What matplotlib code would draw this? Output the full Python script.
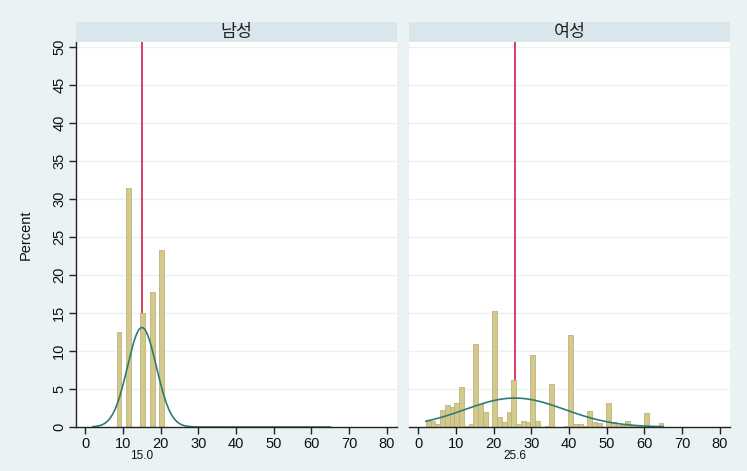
import numpy as np
import matplotlib.pyplot as plt

plt.rcParams['font.family'] = ['Liberation Sans', 'Noto Sans CJK KR', 'DejaVu Sans']

# histogram bins shared by both panels (Stata style, start 2, width 1.26)
bin_start = 2.0
bin_width = 1.26
n_bins = 50

panel_titles = ['남성', '여성']
means = [15.0, 25.6]
sds = [3.84, 13.2]
data_min, data_max = 2.0, 65.0

# percent per bin (index -> percent)
male_pct = {5: 12.5, 7: 31.5, 10: 15.0, 12: 17.8, 14: 23.3}
female_pct = [0.8, 0.8, 0.4, 2.3, 2.9, 2.6, 3.1, 5.3, 0.15, 0.35,
              10.9, 3.0, 2.0, 0.0, 15.2, 1.3, 0.7, 2.0, 6.2, 0.35,
              0.8, 0.7, 9.5, 0.8, 0.0, 0.15, 5.6, 0.0, 0.0, 0.15,
              12.1, 0.4, 0.4, 0.15, 2.15, 0.6, 0.5, 0.0, 3.1, 0.6,
              0.3, 0.3, 0.8, 0.3, 0.2, 0.0, 1.8, 0.0, 0.0, 0.5]

xticks = list(range(0, 81, 10))
yticks = list(range(0, 51, 5))

bg = '#EAF2F3'
strip_c = '#D9E6EB'
bar_c = '#D3C98E'
bar_edge = '#BFB275'
curve_c = '#2F7C74'
mean_c = '#D6315A'

male = np.zeros(n_bins)
for k, v in male_pct.items():
    male[k] = v
female = np.array(female_pct)
edges = bin_start + bin_width * np.arange(n_bins)

fig = plt.figure(figsize=(7.47, 4.71), dpi=100, facecolor=bg)
W, H = 747, 471
lefts = [76, 409]
pw = 321

for i, pct in enumerate([male, female]):
    ax = fig.add_axes([lefts[i] / W, 44 / H, pw / W, 385 / H])
    ax.set_facecolor('white')
    ax.set_xlim(-2.5, 82.7)
    ax.set_ylim(0, 50.66)
    for y in yticks[1:]:
        ax.axhline(y, color=bg, lw=1.0, zorder=0)
    ax.axvline(means[i], color=mean_c, lw=1.3, zorder=1)
    ax.bar(edges, pct, width=bin_width, align='edge', color=bar_c,
           edgecolor=bar_edge, linewidth=0.6, zorder=2)
    xs = np.linspace(data_min, data_max, 300)
    dens = 100 * bin_width * np.exp(-0.5 * ((xs - means[i]) / sds[i]) ** 2) / (sds[i] * np.sqrt(2 * np.pi))
    ax.plot(xs, dens, color=curve_c, lw=1.2, zorder=2.4)

    for s in ['top', 'right']:
        ax.spines[s].set_visible(False)
    ax.spines['bottom'].set_color('#222222')
    ax.spines['bottom'].set_linewidth(1.0)
    ax.spines['bottom'].set_zorder(2.5)
    ax.set_xticks(xticks)
    ax.tick_params(axis='x', length=5, width=1.0, color='#222222', labelsize=10.5,
                   labelcolor='#111111', pad=2)
    if i == 0:
        ax.spines['left'].set_color('#222222')
        ax.spines['left'].set_linewidth(1.0)
        ax.set_yticks(yticks)
        ax.set_yticklabels([str(y) for y in yticks], rotation=90, va='center')
        ax.tick_params(axis='y', length=5, width=1.0, color='#222222', labelsize=10.5,
                       labelcolor='#111111', pad=2)
        ax.set_ylabel('Percent', fontsize=10.5, color='#111111', labelpad=14)
    else:
        ax.spines['left'].set_visible(False)
        ax.set_yticks([])
    ax.text(means[i], -0.075, f'{means[i]:.1f}', transform=ax.get_xaxis_transform(),
            ha='center', va='center', fontsize=8.5, color='#111111')

    sax = fig.add_axes([lefts[i] / W, (H - 42) / H, pw / W, 20 / H])
    sax.set_facecolor(strip_c)
    sax.set_xticks([])
    sax.set_yticks([])
    for s in sax.spines.values():
        s.set_visible(False)
    sax.text(0.5, 0.5, panel_titles[i], ha='center', va='center', fontsize=12.5,
             color='#222222', transform=sax.transAxes)

fig.savefig('out.png', dpi=100, facecolor=bg)
